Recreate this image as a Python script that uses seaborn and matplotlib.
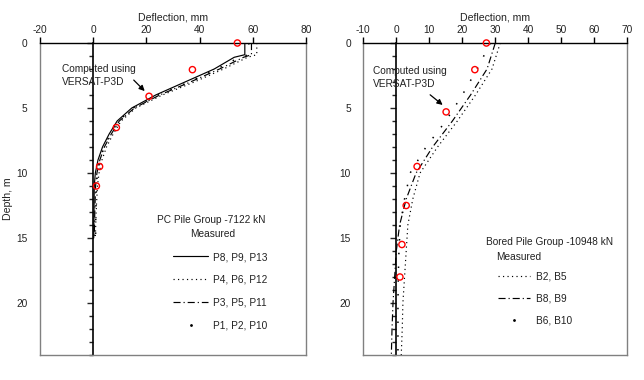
import matplotlib
matplotlib.use("Agg")
import matplotlib.pyplot as plt
from matplotlib.lines import Line2D
from matplotlib.ticker import MultipleLocator
import seaborn as sns

# PC pile group (left panel), measured profiles
depth_pc = [0, 0.9, 1.1, 2, 3, 4, 5, 6, 7, 8, 9, 10, 11, 13, 15]
p8_p9_p13 = [57, 57, 53, 45.5, 34.5, 23.5, 14.5, 9, 6, 3.5, 1.8, 0.8, 0.4, 0.3, 0.2]
p4_p6_p12 = [61.5, 61.5, 58, 49, 38, 26, 16, 10.5, 7.5, 5, 3.3, 2.2, 1.6, 1.1, 0.8]
p3_p5_p11 = [59.5, 59.5, 56.5, 47.5, 36.5, 25, 15.5, 9.8, 6.8, 4.2, 2.5, 1.4, 0.9, 0.6, 0.4]
p1_p2_p10 = [58.5, 58.5, 55, 46.5, 36, 24.5, 15, 9.5, 6.5, 4, 2.5, 1.6, 1.2, 1, 0.9]
# computed (VERSAT-P3D)
comp_pc_defl = [54.2, 37.3, 21, 8.7, 2.4, 1.2]
comp_pc_depth = [0, 2.05, 4.1, 6.5, 9.5, 11.0]

# Bored pile group (right panel), measured profiles
depth_bp = [0, 2, 4, 6, 8, 10, 12, 14, 16, 18, 20, 22, 24]
b2_b5 = [31.5, 29, 24, 18.5, 12.5, 7.2, 5, 3.5, 3, 2.5, 2, 1.8, 1.5]
b8_b9 = [30, 27.5, 22.5, 17, 11, 6, 3, 1, 0, -0.5, -1, -1.3, -1.5]
b6_b10 = [28.5, 24.5, 20, 15, 9, 4.2, 2.5, 1.2, 0.8, 0.6, 0.5, 0.5, 0.5]
comp_bp_defl = [27.3, 23.8, 15.1, 6.3, 3.0, 1.7, 1.1]
comp_bp_depth = [0, 2.05, 5.3, 9.5, 12.5, 15.5, 18.0]

sns.set_theme(style="white")
plt.rcParams["font.family"] = ["Liberation Sans", "DejaVu Sans"]
plt.rcParams["axes.unicode_minus"] = False

FS = 7.3
GRAY = "#808080"
TXT = "#222222"
LW = 0.85
SOLID = "-"
DOT = (0, (1, 2.8))
DASHDOT = (0, (6, 2.5, 1, 2.5))
SPARSE = (0, (1, 8))

fig = plt.figure(figsize=(6.44, 3.80), dpi=100)
ax1 = fig.add_axes([40 / 644, 1 - 355 / 380, 266 / 644, 312 / 380])
ax2 = fig.add_axes([363.3 / 644, 1 - 355 / 380, 264 / 644, 312 / 380])


def style_axes(ax, xlim, xstep, zero_frac):
    ax.set_xlim(*xlim)
    ax.set_ylim(24, 0)
    ax.xaxis.set_major_locator(MultipleLocator(xstep))
    ax.set_yticks([0, 5, 10, 15, 20])
    ax.xaxis.tick_top()
    ax.xaxis.set_label_position("top")
    ax.tick_params(axis="x", which="major", direction="out", length=4, width=1,
                   color="black", labelsize=FS, pad=2, labelcolor=TXT)
    ax.tick_params(axis="y", which="both", length=0, labelsize=FS, pad=9,
                   labelcolor=TXT)
    for s in ["left", "right", "bottom"]:
        ax.spines[s].set_color(GRAY)
        ax.spines[s].set_linewidth(1)
    ax.spines["top"].set_color("black")
    ax.spines["top"].set_linewidth(1)
    ax.grid(False)
    # vertical axis drawn through zero deflection
    sec = ax.secondary_yaxis(zero_frac)
    sec.set_yticks([0, 5, 10, 15, 20])
    sec.yaxis.set_minor_locator(MultipleLocator(1))
    sec.tick_params(which="major", direction="out", length=4, width=1, labelleft=False)
    sec.tick_params(which="minor", direction="out", length=3, width=1, labelleft=False)
    sec.spines["left"].set_color("black")
    sec.spines["left"].set_linewidth(1.2)


style_axes(ax1, (-20, 80), 20, 0.2)
style_axes(ax2, (-10, 70), 10, 0.125)

# left panel lines
sns.lineplot(x=p8_p9_p13, y=depth_pc, sort=False, estimator=None, ax=ax1,
             color="black", lw=LW, linestyle=SOLID)
sns.lineplot(x=p4_p6_p12, y=depth_pc, sort=False, estimator=None, ax=ax1,
             color="black", lw=LW, linestyle=DOT)
sns.lineplot(x=p3_p5_p11, y=depth_pc, sort=False, estimator=None, ax=ax1,
             color="black", lw=LW, linestyle=DASHDOT)
sns.lineplot(x=p1_p2_p10, y=depth_pc, sort=False, estimator=None, ax=ax1,
             color="black", lw=1.1, linestyle=SPARSE)
sns.scatterplot(x=comp_pc_defl, y=comp_pc_depth, ax=ax1, marker="o", s=20,
                facecolor="none", edgecolor="red", linewidth=1, zorder=5,
                clip_on=False)

# right panel lines
sns.lineplot(x=b2_b5, y=depth_bp, sort=False, estimator=None, ax=ax2,
             color="black", lw=LW, linestyle=DOT)
sns.lineplot(x=b8_b9, y=depth_bp, sort=False, estimator=None, ax=ax2,
             color="black", lw=LW, linestyle=DASHDOT)
sns.lineplot(x=b6_b10, y=depth_bp, sort=False, estimator=None, ax=ax2,
             color="black", lw=1.1, linestyle=SPARSE)
sns.scatterplot(x=comp_bp_defl, y=comp_bp_depth, ax=ax2, marker="o", s=20,
                facecolor="none", edgecolor="red", linewidth=1, zorder=5,
                clip_on=False)

ax1.set_ylabel("Depth, m", fontsize=7.6, labelpad=2, color=TXT)
ax1.set_xlabel("Deflection, mm", fontsize=7.6, labelpad=3, color=TXT)
ax2.set_xlabel("Deflection, mm", fontsize=7.6, labelpad=3, color=TXT)
ax2.set_ylabel("")

# annotations
arrow = dict(arrowstyle="-|>", color="black", lw=0.9, mutation_scale=8)
ax1.text(-11.8, 1.6, "Computed using\nVERSAT-P3D", fontsize=FS, ha="left",
         va="top", linespacing=1.45, color=TXT)
ax1.annotate("", xy=(20.1, 3.85), xytext=(14.5, 2.7), arrowprops=arrow)
ax2.text(-7.2, 1.75, "Computed using\nVERSAT-P3D", fontsize=FS, ha="left",
         va="top", linespacing=1.45, color=TXT)
ax2.annotate("", xy=(14.7, 4.9), xytext=(9.6, 3.85), arrowprops=arrow)

# legends
ax1.text(0.645, 0.433, "PC Pile Group -7122 kN", transform=ax1.transAxes,
         fontsize=FS, ha="center", va="center", color=TXT)
ax1.text(0.65, 0.388, "Measured", transform=ax1.transAxes,
         fontsize=FS, ha="center", va="center", color=TXT)
h1 = [Line2D([], [], color="black", lw=LW, linestyle=SOLID),
      Line2D([], [], color="black", lw=LW, linestyle=DOT),
      Line2D([], [], color="black", lw=LW, linestyle=DASHDOT),
      Line2D([], [], color="black", lw=0, marker=".", markersize=2)]
ax1.legend(h1, ["P8, P9, P13", "P4, P6, P12", "P3, P5, P11", "P1, P2, P10"],
           loc="upper left", bbox_to_anchor=(0.5, 0.33), frameon=False,
           fontsize=FS, handlelength=3.5, handletextpad=0.4, labelspacing=1.25,
           borderpad=0, borderaxespad=0, labelcolor=TXT)

ax2.text(0.705, 0.362, "Bored Pile Group -10948 kN", transform=ax2.transAxes,
         fontsize=FS, ha="center", va="center", color=TXT)
ax2.text(0.59, 0.314, "Measured", transform=ax2.transAxes,
         fontsize=FS, ha="center", va="center", color=TXT)
h2 = [Line2D([], [], color="black", lw=LW, linestyle=DOT),
      Line2D([], [], color="black", lw=LW, linestyle=DASHDOT),
      Line2D([], [], color="black", lw=0, marker=".", markersize=2)]
ax2.legend(h2, ["B2, B5", "B8, B9", "B6, B10"],
           loc="upper left", bbox_to_anchor=(0.51, 0.268), frameon=False,
           fontsize=FS, handlelength=3.2, handletextpad=0.6, labelspacing=1.2,
           borderpad=0, borderaxespad=0, labelcolor=TXT)

fig.savefig("out.png", dpi=100)
